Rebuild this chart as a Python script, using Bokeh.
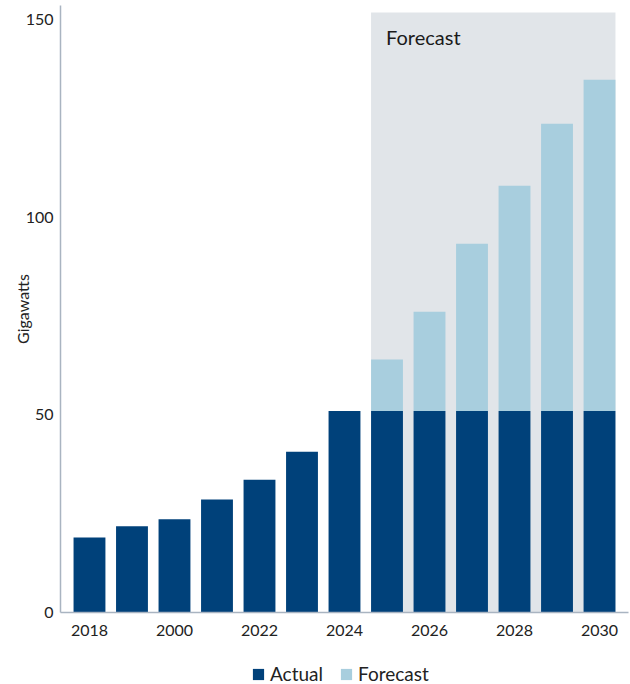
from bokeh.plotting import figure
from bokeh.layouts import column
from bokeh.models import Legend, LegendItem, FixedTicker, Label, Range1d
from bokeh.embed import file_html
from bokeh.resources import INLINE

years = [2018, 2019, 2020, 2021, 2022, 2023, 2024, 2025, 2026, 2027, 2028, 2029, 2030]
actual = [19.0, 21.8, 23.6, 28.6, 33.6, 40.7, 51, 51, 51, 51, 51, 51, 51]
forecast_years = [2025, 2026, 2027, 2028, 2029, 2030]
forecast_total = [64.0, 76.1, 93.3, 108.0, 123.7, 134.8]
tick_years = [2018, 2020, 2022, 2024, 2026, 2028, 2030]
tick_labels = ["2018", "2000", "2022", "2024", "2026", "2028", "2030"]
y_ticks = [0, 50, 100, 150]
series_names = ["Actual", "Forecast"]

DARK = "#00417a"
LIGHT = "#a8cede"
SHADE = "#e1e5e9"
AXIS = "#a9b4c1"
TEXT = "#222222"
FONT = "Lato"
BW = 0.75

p = figure(width=630, height=650, output_backend="svg", toolbar_location=None,
           x_range=Range1d(2017.318, 2030.682), y_range=Range1d(0, 153.6),
           min_border_left=60, min_border_right=2, min_border_top=5, min_border_bottom=38)
p.outline_line_color = None
p.xgrid.visible = False
p.ygrid.visible = False

# forecast shading
p.quad(left=[forecast_years[0] - BW / 2], right=[forecast_years[-1] + BW / 2],
       bottom=[0], top=[151.8], fill_color=SHADE, line_color=None)

p.vbar(x=years, top=actual, width=BW, fill_color=DARK, line_color=None)
p.vbar(x=forecast_years, bottom=actual[-len(forecast_years):], top=forecast_total,
       width=BW, fill_color=LIGHT, line_color=None)

lab = Label(x=forecast_years[0] - BW / 2, y=145.7, x_offset=15, text="Forecast",
            text_font=FONT, text_font_size="20px", text_color="#1a1a1a",
            text_baseline="middle")
p.add_layout(lab)

p.xaxis.ticker = FixedTicker(ticks=tick_years)
p.xaxis.major_label_overrides = {y: l for y, l in zip(tick_years, tick_labels)}
p.yaxis.ticker = FixedTicker(ticks=y_ticks)
for ax in (p.xaxis, p.yaxis):
    ax.axis_line_color = AXIS
    ax.axis_line_width = 1.5
    ax.major_tick_line_color = None
    ax.minor_tick_line_color = None
    ax.major_tick_out = 0
    ax.major_tick_in = 0
    ax.major_label_text_font = FONT
    ax.major_label_text_font_size = "16px"
    ax.major_label_text_color = TEXT
p.xaxis.major_label_standoff = 12
p.yaxis.major_label_standoff = 7
p.yaxis.axis_label = "Gigawatts"
p.yaxis.axis_label_text_font = FONT
p.yaxis.axis_label_text_font_size = "16px"
p.yaxis.axis_label_text_font_style = "normal"
p.yaxis.axis_label_text_color = TEXT
p.yaxis.axis_label_standoff = -9

# legend strip (swatch renderers have zero size)
lg = figure(width=630, height=34, output_backend="svg", toolbar_location=None,
            x_range=Range1d(0, 1), y_range=Range1d(0, 1),
            min_border_left=60, min_border_right=2, min_border_top=0, min_border_bottom=0)
lg.axis.visible = False
lg.grid.visible = False
lg.outline_line_color = None
ra = lg.vbar(x=[0.5], top=[0], bottom=[0], width=0, fill_color=DARK, line_color=None)
rf = lg.vbar(x=[0.5], top=[0], bottom=[0], width=0, fill_color=LIGHT, line_color=None)
legend = Legend(items=[LegendItem(label=series_names[0], renderers=[ra]),
                       LegendItem(label=series_names[1], renderers=[rf])],
                orientation="horizontal", location=(191, -1),
                label_text_font=FONT, label_text_font_size="19px", label_text_color=TEXT,
                glyph_width=14, glyph_height=14, spacing=16, label_standoff=5,
                border_line_color=None, background_fill_alpha=0, padding=2, margin=0)
lg.add_layout(legend)

layout = column(p, lg, spacing=0)
open("out.html", "w").write(file_html(layout, INLINE))
